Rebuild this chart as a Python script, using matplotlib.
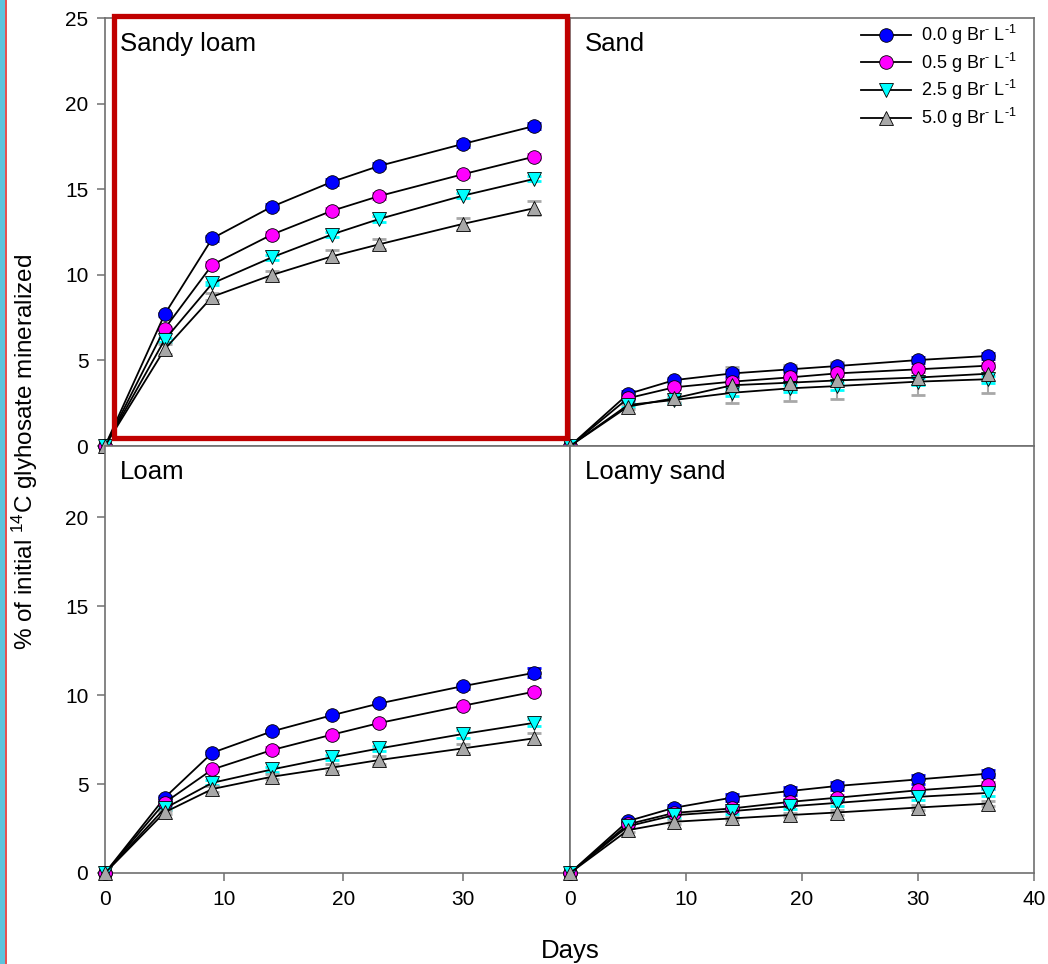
import numpy as np
import matplotlib.pyplot as plt
from matplotlib.patches import Rectangle
from matplotlib.lines import Line2D

plt.rcParams['font.family'] = ['Liberation Sans', 'DejaVu Sans']
plt.rcParams['mathtext.fontset'] = 'custom'
plt.rcParams['mathtext.rm'] = 'Liberation Sans'
plt.rcParams['mathtext.default'] = 'regular'

days = [0, 5, 9, 14, 19, 23, 30, 36]

rates = ['0.0 g Br$^{\\text{-}}$ L$^{\\text{-1}}$', '0.5 g Br$^{\\text{-}}$ L$^{\\text{-1}}$',
         '2.5 g Br$^{\\text{-}}$ L$^{\\text{-1}}$', '5.0 g Br$^{\\text{-}}$ L$^{\\text{-1}}$']

# mineralized % per rate (0.0, 0.5, 2.5, 5.0 g Br- L-1)
sandy_loam = [
    [0, 7.69, 12.13, 13.98, 15.42, 16.36, 17.64, 18.69],
    [0, 6.85, 10.59, 12.35, 13.73, 14.60, 15.87, 16.90],
    [0, 6.20, 9.50, 11.02, 12.35, 13.26, 14.62, 15.60],
    [0, 5.65, 8.72, 9.99, 11.07, 11.78, 12.97, 13.89],
]
sandy_loam_err = [
    [0, 0.10, 0.15, 0.15, 0.15, 0.15, 0.15, 0.15],
    [0, 0.10, 0.15, 0.15, 0.15, 0.15, 0.15, 0.15],
    [0, 0.10, 0.10, 0.15, 0.15, 0.15, 0.15, 0.15],
    [0, 0.30, 0.20, 0.25, 0.35, 0.30, 0.35, 0.42],
]

sand = [
    [0, 3.04, 3.85, 4.24, 4.48, 4.67, 5.02, 5.26],
    [0, 2.79, 3.43, 3.76, 4.01, 4.24, 4.48, 4.69],
    [0, 2.40, 2.69, 3.11, 3.37, 3.50, 3.76, 3.90],
    [0, 2.30, 2.79, 3.55, 3.70, 3.83, 4.00, 4.22],
]
sand_err = [
    [0, 0.15, 0.15, 0.20, 0.15, 0.15, 0.15, 0.20],
    [0, 0.10, 0.10, 0.15, 0.15, 0.15, 0.15, 0.15],
    [0, 0.15, 0.15, 0.20, 0.20, 0.20, 0.20, 0.20],
    [0, 0.15, 0.20, 1.05, 1.05, 1.10, 1.05, 1.10],
]

loam = [
    [0, 4.23, 6.76, 7.96, 8.86, 9.53, 10.50, 11.25],
    [0, 3.95, 5.82, 6.91, 7.77, 8.43, 9.40, 10.19],
    [0, 3.63, 5.07, 5.82, 6.50, 7.00, 7.81, 8.44],
    [0, 3.41, 4.72, 5.41, 5.92, 6.35, 7.00, 7.57],
]
loam_err = [
    [0, 0.10, 0.10, 0.10, 0.10, 0.10, 0.15, 0.25],
    [0, 0.10, 0.10, 0.15, 0.10, 0.10, 0.10, 0.15],
    [0, 0.10, 0.15, 0.15, 0.15, 0.15, 0.20, 0.20],
    [0, 0.10, 0.15, 0.15, 0.20, 0.20, 0.25, 0.30],
]

loamy_sand = [
    [0, 2.92, 3.67, 4.24, 4.61, 4.89, 5.26, 5.58],
    [0, 2.74, 3.38, 3.63, 4.00, 4.23, 4.65, 4.93],
    [0, 2.63, 3.25, 3.48, 3.75, 3.94, 4.28, 4.50],
    [0, 2.41, 2.88, 3.07, 3.26, 3.40, 3.68, 3.90],
]
loamy_sand_err = [
    [0, 0.10, 0.15, 0.20, 0.20, 0.20, 0.25, 0.20],
    [0, 0.10, 0.10, 0.15, 0.15, 0.15, 0.15, 0.20],
    [0, 0.10, 0.15, 0.15, 0.15, 0.15, 0.20, 0.20],
    [0, 0.10, 0.10, 0.10, 0.10, 0.15, 0.15, 0.15],
]

colors = ['#0000ff', '#ff00ff', '#00ffff', '#a8a8a8']
markers = ['o', 'o', 'v', '^']
spine_col = '#707070'

W, H = 1048, 964
fig = plt.figure(figsize=(W / 100, H / 100), dpi=100)
fig.patch.set_facecolor('white')


def px(x0, y0, x1, y1):
    # pixel box -> figure fraction rect
    return [x0 / W, 1 - y1 / H, (x1 - x0) / W, (y1 - y0) / H]


ax_sl = fig.add_axes(px(105, 18, 570, 446))
ax_sa = fig.add_axes(px(570, 18, 1034, 446))
ax_lo = fig.add_axes(px(105, 446, 570, 873))
ax_ls = fig.add_axes(px(570, 446, 1034, 873))

panels = [
    (ax_sl, 'Sandy loam', sandy_loam, sandy_loam_err, 39, 25),
    (ax_sa, 'Sand', sand, sand_err, 40, 25),
    (ax_lo, 'Loam', loam, loam_err, 39, 24),
    (ax_ls, 'Loamy sand', loamy_sand, loamy_sand_err, 40, 24),
]

for ax, name, vals, errs, xmax, ymax in panels:
    for i in range(4):
        ax.errorbar(days, vals[i], yerr=errs[i], fmt='none', ecolor=colors[i],
                    elinewidth=1.5, capsize=5, capthick=2, zorder=2, clip_on=False)
        ax.plot(days, vals[i], color='black', lw=1.3, marker=markers[i],
                ms=9.8, mfc=colors[i], mec='black', mew=0.6, zorder=3,
                clip_on=False, label=rates[i])
    ax.set_xlim(0, xmax)
    ax.set_ylim(0, ymax)
    for s in ax.spines.values():
        s.set_color(spine_col)
        s.set_linewidth(1.2)
    ax.tick_params(direction='out', length=6, width=1.1, color=spine_col,
                   labelsize=15, pad=6)
    ax.text(15 / 465, 1 - 14 / 428, name, transform=ax.transAxes,
            fontsize=18.5, va='top', ha='left')

ax_sl.set_yticks([0, 5, 10, 15, 20, 25])
ax_lo.set_yticks([0, 5, 10, 15, 20])
ax_lo.set_xticks([0, 10, 20, 30])
ax_ls.set_xticks([0, 10, 20, 30, 40])
ax_sl.set_xticks([])
ax_sa.set_xticks([])
ax_sa.set_yticks([])
ax_ls.set_yticks([])

ax_sa.legend(loc='upper right', bbox_to_anchor=(0.99, 1.018), frameon=False,
             fontsize=13, handlelength=2.8, handletextpad=0.55,
             labelspacing=0.2, borderaxespad=0.3)

fig.text(25 / W, 1 - 452 / H, '% of initial $^{14}$C glyhosate mineralized',
         rotation=90, ha='center', va='center', fontsize=17.5)
fig.text(570 / W, 1 - 951 / H, 'Days', ha='center', va='center', fontsize=18.5)

# slide decorations: highlight box and left border
fig.patches.append(Rectangle((113.5 / W, 1 - 438 / H), (566.5 - 113.5) / W,
                             (438 - 16) / H, transform=fig.transFigure,
                             fill=False, edgecolor='#c00000', lw=3.8, zorder=10))
fig.patches.append(Rectangle((0, 0), 5 / W, 1, transform=fig.transFigure,
                             facecolor='#5cc3dc', edgecolor='none', zorder=10))
fig.lines.append(Line2D([5.5 / W, 5.5 / W], [0, 1], transform=fig.transFigure,
                        color='#e03030', lw=1.2, zorder=11))

fig.savefig('out.png', dpi=100)
